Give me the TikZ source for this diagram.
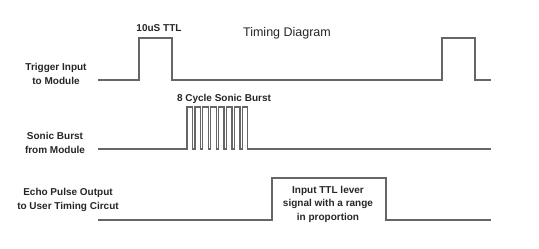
\documentclass[tikz,border=0pt]{standalone}
\usepackage{fontspec}
\setmainfont{Liberation Sans}
\usepackage{tikz}

\tikzset{
  wave/.style = {draw = black!60, line width = 1.3pt, line join = miter},
  sigtext/.style = {align = center, text = black!85,
                    font = \bfseries\fontsize{10}{13.5}\selectfont},
  titletext/.style = {text = black!85, font = \fontsize{12.5}{14}\selectfont}
}

\begin{document}
\begin{tikzpicture}[x = 1pt, y = -1pt]
  \useasboundingbox (0, 0) rectangle (539, 249);

  % signal names on the left
  \node[sigtext] (trigname) at (56, 74)  {Trigger Input\\to Module};
  \node[sigtext] (sonicname) at (55, 143) {Sonic Burst\\from Module};
  \node[sigtext] (echoname) at (68, 200) {Echo Pulse Output\\to User Timing Circut};

  % titles above the waveforms
  \node[sigtext] (ttl) at (159, 28) {10uS TTL};
  \node[titletext] (title) at (287, 33) {Timing Diagram};
  \node[sigtext] (burst) at (224, 99) {8 Cycle Sonic Burst};

  % trigger input
  \draw[wave] (98, 80) -- (139, 80) -- (139, 38) -- (172, 38) -- (172, 80)
              -- (442, 80) -- (442, 38) -- (475, 38) -- (475, 80) -- (491, 80);

  % sonic burst
  \draw[wave] (98, 149) -- (187, 149)
    \foreach \i in {0,...,7} { -- ++(0, -42) -- ++(5.5, 0) -- ++(0, 42) -- ++(2.4, 0) }
    -- (491, 149);

  % echo pulse
  \draw[wave] (98, 220) -- (272, 220) -- (272, 178) -- (386, 178) -- (386, 220)
              -- (491, 220);
  \node[sigtext] (echonote) at (328, 204) {Input TTL lever\\signal with a range\\in proportion};
\end{tikzpicture}
\end{document}
